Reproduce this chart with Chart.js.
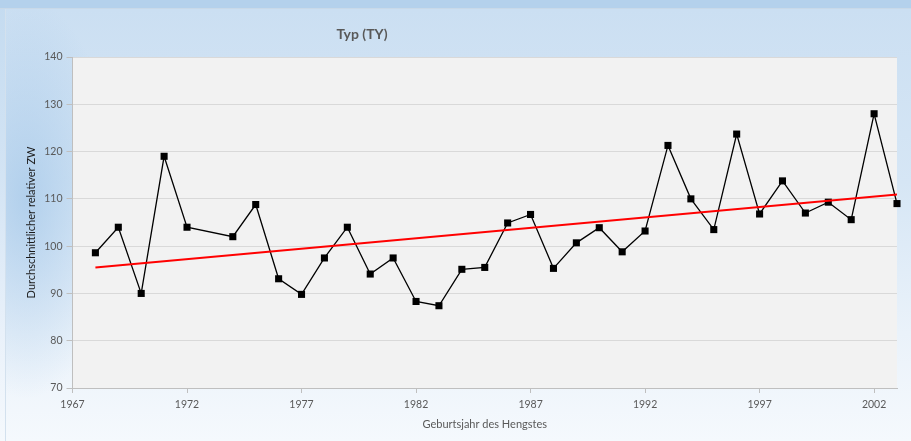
<!DOCTYPE html>
<html>
<head>
<meta charset="utf-8">
<script src="https://cdn.jsdelivr.net/npm/chart.js@4"></script>
<style>
  html, body { margin: 0; padding: 0; }
  body {
    width: 911px; height: 441px; overflow: hidden;
    background: linear-gradient(to bottom, #c4dbf0 0%, #d3e4f4 40%, #e9f1fa 75%, #f5f9fd 100%);
  }
  #topband { position: absolute; left: 0; top: 0; width: 911px; height: 8px; background: #b4d1ec; border-bottom: 1px solid #c9d9e8; }
  #panel {
    position: absolute; left: 5px; top: 9px; width: 906px; height: 432px;
    border-left: 1px solid #d3e1ee;
    background:
      radial-gradient(ellipse 90px 200px at 20px 190px, rgba(165,200,233,0.75), rgba(165,200,233,0)),
      linear-gradient(to bottom, #cbdff2 0%, #d6e6f5 40%, #eaf2fa 75%, #f5f9fd 100%);
  }
  #wrap { position: absolute; left: 0; top: 0; width: 911px; height: 441px; }
</style>
</head>
<body>
<div id="topband"></div>
<div id="panel"></div>
<div id="wrap"><canvas id="typChart"></canvas></div>
<script>
// Geburtsjahr / durchschnittlicher relativer ZW (1973 fehlt)
var years  = [1968, 1969, 1970, 1971, 1972, 1974, 1975, 1976, 1977, 1978, 1979, 1980,
              1981, 1982, 1983, 1984, 1985, 1986, 1987, 1988, 1989, 1990, 1991, 1992,
              1993, 1994, 1995, 1996, 1997, 1998, 1999, 2000, 2001, 2002, 2003];
var values = [98.6, 104.0, 90.0, 119.0, 104.0, 102.0, 108.8, 93.1, 89.8, 97.5, 104.0, 94.1,
              97.5, 88.3, 87.4, 95.1, 95.5, 104.9, 106.7, 95.3, 100.7, 103.9, 98.8, 103.2,
              121.3, 110.0, 103.5, 123.7, 106.8, 113.8, 107.0, 109.3, 105.6, 128.0, 109.0];
// lineare Trendlinie (Endpunkte)
var trendYears  = [1968, 2003];
var trendValues = [95.5, 110.9];
var xTicks = [1967, 1972, 1977, 1982, 1987, 1992, 1997, 2002];

var pts = years.map(function(y, i) { return {x: y, y: values[i]}; });
var trend = trendYears.map(function(y, i) { return {x: y, y: trendValues[i]}; });

var plotBg = {
  id: 'plotBg',
  beforeDraw: function(chart) {
    var a = chart.chartArea, ctx = chart.ctx;
    ctx.save();
    ctx.fillStyle = '#f2f2f2';
    ctx.fillRect(a.left, a.top, a.right - a.left, a.bottom - a.top);
    ctx.restore();
  },
  afterDraw: function(chart) {
    var ctx = chart.ctx;
    ctx.save();
    ctx.font = 'bold 14px Lato, "Open Sans", sans-serif';
    ctx.fillStyle = '#595959';
    ctx.textAlign = 'center';
    ctx.textBaseline = 'middle';
    ctx.fillText('Typ (TY)', 362, 34);
    ctx.restore();
  }
};

var tickFont = { family: 'Lato, "Open Sans", sans-serif', size: 10.5 };

new Chart(document.getElementById('typChart'), {
  type: 'scatter',
  data: {
    datasets: [{
      label: 'Typ',
      data: pts,
      showLine: true,
      borderColor: '#000000',
      borderWidth: 1.3,
      backgroundColor: '#000000',
      pointStyle: 'rect',
      pointRadius: 5,
      pointBorderWidth: 0,
      clip: false,
      order: 2
    }, {
      label: 'Trend',
      data: trend,
      showLine: true,
      borderColor: '#ff0000',
      borderWidth: 2,
      pointRadius: 0,
      order: 1
    }]
  },
  options: {
    responsive: true,
    maintainAspectRatio: false,
    animation: false,
    devicePixelRatio: 1,
    layout: { padding: { left: 0, top: 57, right: 14, bottom: 0 } },
    plugins: {
      legend: { display: false },
      tooltip: { enabled: false }
    },
    scales: {
      x: {
        type: 'linear',
        min: 1967,
        max: 2003,
        afterBuildTicks: function(scale) {
          scale.ticks = xTicks.map(function(v) { return {value: v}; });
        },
        afterFit: function(scale) { scale.height = 53; },
        grid: { drawOnChartArea: false, drawTicks: true, tickLength: 5, color: '#bfbfbf' },
        border: { color: '#bfbfbf' },
        ticks: { color: '#595959', font: tickFont, padding: 5, maxRotation: 0,
                 callback: function(v) { return String(v); } },
        title: {
          display: true,
          text: 'Geburtsjahr des Hengstes',
          color: '#595959',
          font: { family: 'Lato, "Open Sans", sans-serif', size: 11 },
          padding: { top: 0, bottom: 10 }
        }
      },
      y: {
        min: 70,
        max: 140,
        afterFit: function(scale) { scale.width = 72.5; },
        grid: { color: '#d9d9d9', tickColor: '#bfbfbf', tickLength: 6 },
        border: { color: '#bfbfbf' },
        ticks: { stepSize: 10, color: '#595959', font: tickFont, padding: 4 },
        title: {
          display: true,
          text: 'Durchschnittlicher relativer ZW',
          color: '#1a1a1a',
          font: { family: 'Lato, "Open Sans", sans-serif', size: 11 },
          padding: { top: 25, bottom: 0 }
        }
      }
    }
  },
  plugins: [plotBg]
});
</script>
</body>
</html>
